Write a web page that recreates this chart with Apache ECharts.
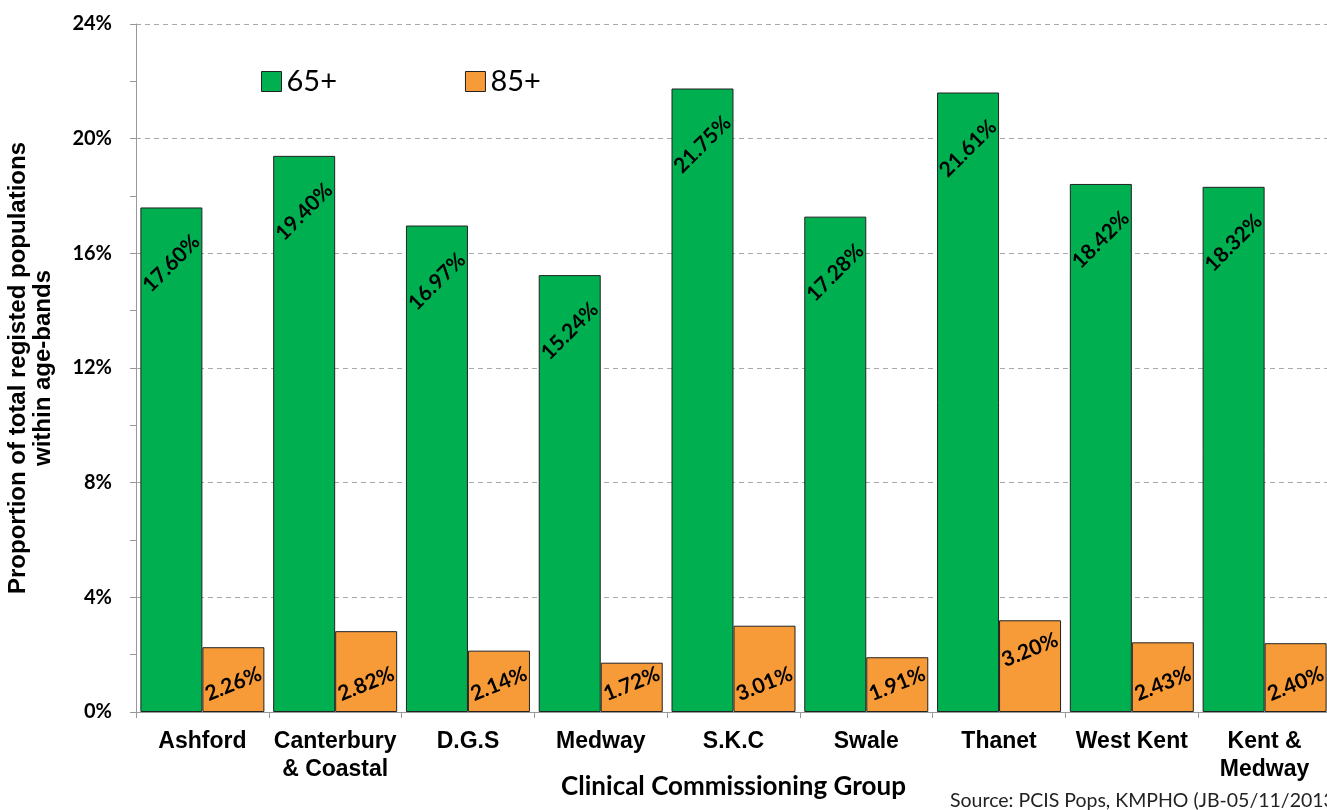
<!DOCTYPE html>
<html>
<head>
<meta charset="utf-8">
<script src="https://cdn.jsdelivr.net/npm/echarts@6/dist/echarts.min.js"></script>
<style>
  html, body { margin: 0; padding: 0; background: #fff; }
  #chart { width: 1327px; height: 810px; }
</style>
</head>
<body>
<div id="chart"></div>
<script>
// Clinical Commissioning Groups
const categories = ['Ashford', 'Canterbury\n& Coastal', 'D.G.S', 'Medway', 'S.K.C', 'Swale', 'Thanet', 'West Kent', 'Kent &\nMedway'];
// Share of registered population (%) by age band
const age65plus = [17.60, 19.40, 16.97, 15.24, 21.75, 17.28, 21.61, 18.42, 18.32];
const age85plus = [2.26, 2.82, 2.14, 1.72, 3.01, 1.91, 3.20, 2.43, 2.40];
const seriesNames = ['65+', '85+'];

const GREEN = '#00B050';
const ORANGE = '#F79A38';
const CALIBRI = 'Lato, "Open Sans", sans-serif';
const ARIAL = '"Liberation Sans", Arial, sans-serif';

const pct = p => p.value.toFixed(2) + '%';

const chart = echarts.init(document.getElementById('chart'), null, { renderer: 'canvas' });
chart.setOption({
  animation: false,
  backgroundColor: '#fff',
  grid: {
    left: 136, top: 24, bottom: 98, width: 1195,
    containLabel: false, outerBoundsMode: 'none'
  },
  legend: {
    left: 261, top: 67, padding: 0,
    itemWidth: 20, itemHeight: 20, itemGap: 128,
    icon: 'rect',
    itemStyle: { borderColor: '#222', borderWidth: 1 },
    textStyle: { fontFamily: CALIBRI, fontSize: 29, color: '#000' },
    data: seriesNames
  },
  xAxis: {
    type: 'category',
    data: categories,
    axisLine: { lineStyle: { color: '#999', width: 1 } },
    axisTick: { show: true, length: 6, lineStyle: { color: '#999' } },
    axisLabel: {
      fontFamily: ARIAL, fontWeight: 'bold', fontSize: 23, color: '#000',
      lineHeight: 28, margin: 16, interval: 0
    },
    name: 'Clinical Commissioning Group',
    nameLocation: 'middle',
    nameGap: 62,
    nameMoveOverlap: false,
    nameTextStyle: { fontFamily: CALIBRI, fontWeight: 'bold', fontSize: 26, color: '#000' }
  },
  yAxis: {
    type: 'value',
    min: 0, max: 24, interval: 4,
    axisLine: { show: true, lineStyle: { color: '#999', width: 1 } },
    axisTick: { show: true, length: 6, lineStyle: { color: '#999' } },
    minorTick: { show: true, splitNumber: 2, length: 6, lineStyle: { color: '#999' } },
    splitLine: { show: true, lineStyle: { color: '#aaa', type: [5, 4], width: 1 } },
    axisLabel: {
      formatter: '{value}%',
      fontFamily: CALIBRI, fontWeight: 'bold', fontSize: 20, color: '#000', margin: 24
    },
    name: 'Proportion of total registed populations\nwithin age-bands',
    nameLocation: 'middle',
    nameGap: 80,
    nameMoveOverlap: false,
    nameRotate: 90,
    nameTextStyle: { fontFamily: ARIAL, fontWeight: 'bold', fontSize: 24, color: '#000', lineHeight: 25 }
  },
  series: [
    {
      name: seriesNames[0],
      type: 'bar',
      data: age65plus,
      barWidth: 62,
      barGap: '0%',
      itemStyle: { color: GREEN, borderColor: '#222', borderWidth: 1 },
      label: {
        show: true, position: 'insideTop', distance: 56, rotate: 45,
        align: 'center', verticalAlign: 'middle',
        formatter: pct,
        fontFamily: CALIBRI, fontWeight: 'bold', fontSize: 21, color: '#000'
      }
    },
    {
      name: seriesNames[1],
      type: 'bar',
      data: age85plus.map((v, i) => categories[i] === 'Thanet'
        ? { value: v, label: { distance: 62 } } : v),
      barWidth: 62,
      itemStyle: { color: ORANGE, borderColor: '#222', borderWidth: 1 },
      label: {
        show: true, position: 'insideBottom', distance: 28, rotate: 22,
        align: 'center', verticalAlign: 'middle',
        formatter: pct,
        fontFamily: CALIBRI, fontWeight: 'bold', fontSize: 21, color: '#000'
      }
    }
  ],
  graphic: [
    {
      type: 'text', left: 950, top: 791,
      style: { text: 'Source: PCIS Pops, KMPHO (JB-05/11/2013)', fontFamily: CALIBRI, fontSize: 19.5, fill: '#222' }
    }
  ]
});
</script>
</body>
</html>
